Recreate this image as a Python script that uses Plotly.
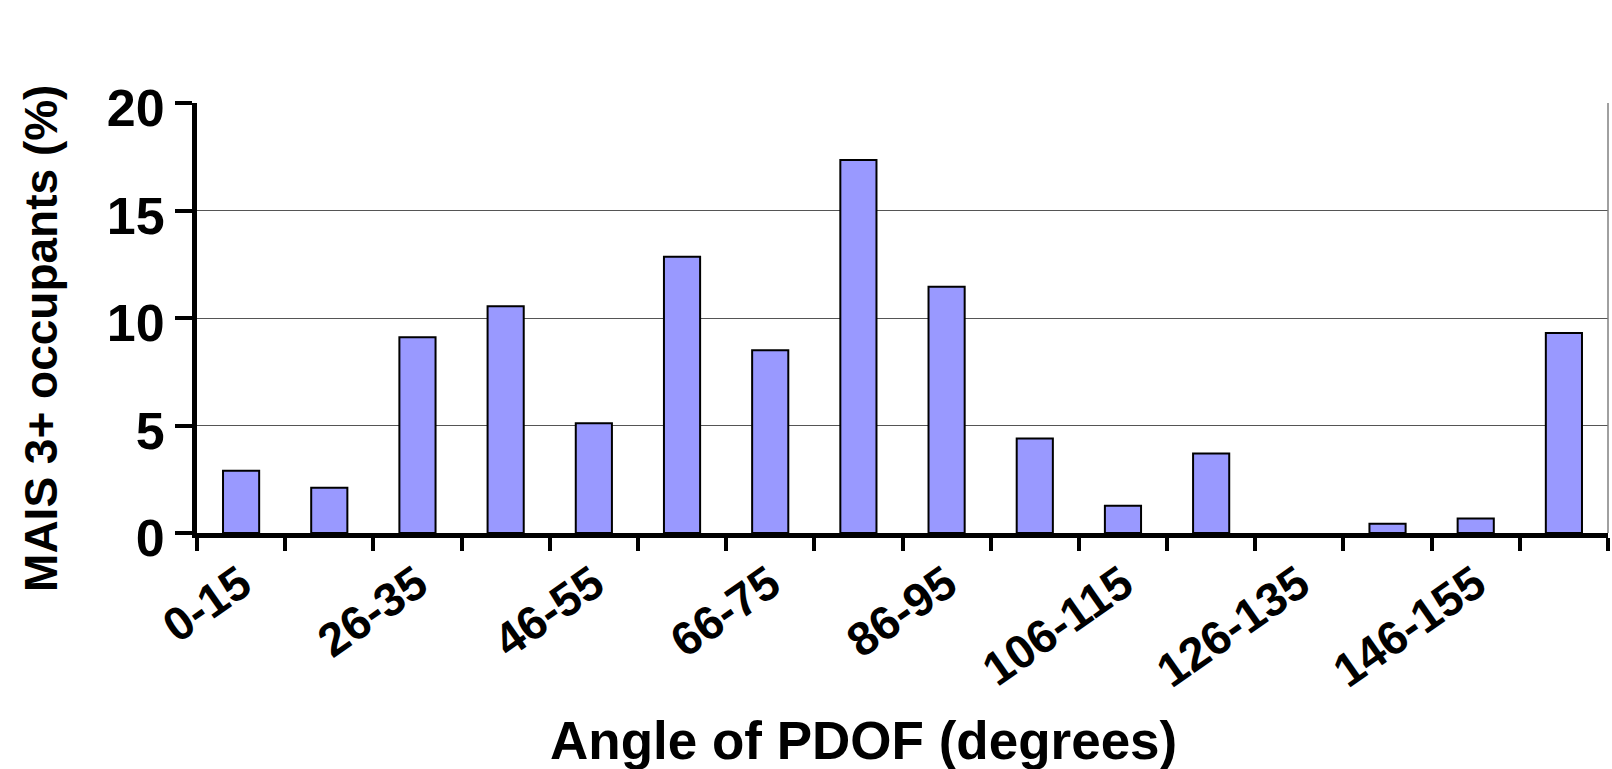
import plotly.graph_objects as go

# PDOF angle bins (degrees) and share of MAIS 3+ occupants (%)
angle_bins = ["0-15", "16-25", "26-35", "36-45", "46-55", "56-65", "66-75", "76-85",
              "86-95", "96-105", "106-115", "116-125", "126-135", "136-145", "146-155", "156-180"]
mais3_pct = [2.9, 2.1, 9.1, 10.55, 5.1, 12.85, 8.5, 17.35,
             11.45, 4.4, 1.27, 3.7, None, 0.43, 0.68, 9.3]
# every other bin gets a printed label
tick_text = [b if i % 2 == 0 else "" for i, b in enumerate(angle_bins)]
y_ticks = [0, 5, 10, 15, 20]

FONT = "Liberation Sans, Arial, sans-serif"

fig = go.Figure(
    go.Bar(
        x=angle_bins,
        y=mais3_pct,
        marker=dict(color="#9999FF", line=dict(color="black", width=2)),
    )
)

fig.update_layout(
    width=1612,
    height=769,
    margin=dict(l=197, r=4, t=103, b=236),
    paper_bgcolor="white",
    plot_bgcolor="white",
    bargap=0.59,
    showlegend=False,
    font=dict(family=FONT, color="black"),
)

fig.update_xaxes(
    type="category",
    range=[-0.5, 15.5],
    tickmode="array",
    tickvals=angle_bins,
    ticktext=tick_text,
    tickangle=-35,
    tickson="boundaries",
    ticks="outside",
    ticklen=13,
    tickwidth=4,
    tickcolor="black",
    showline=True,
    linecolor="black",
    linewidth=5,
    showgrid=False,
    tickfont=dict(family=FONT, size=47, color="black", weight="bold"),
)

fig.update_yaxes(
    range=[0, 20],
    tickmode="array",
    tickvals=y_ticks,
    ticks="outside",
    ticklen=17,
    tickwidth=4,
    tickcolor="black",
    ticklabelstandoff=0,
    ticklabelshift=5,
    showline=True,
    linecolor="black",
    linewidth=5,
    showgrid=True,
    gridcolor="#555555",
    gridwidth=1,
    zeroline=False,
    tickfont=dict(family=FONT, size=52, color="black", weight="bold"),
)

# light frame on the right-hand side of the plot area
fig.add_shape(type="line", xref="paper", yref="paper", x0=1, x1=1, y0=0, y1=1,
              line=dict(color="#808080", width=1.5))

fig.add_annotation(
    text="MAIS 3+ occupants (%)",
    xref="paper", yref="paper",
    x=-0.1106, y=0.4535,
    xanchor="center", yanchor="middle",
    textangle=-90,
    showarrow=False,
    font=dict(family=FONT, size=46, color="black", weight="bold"),
)

fig.add_annotation(
    text="Angle of PDOF (degrees)",
    xref="paper", yref="paper",
    x=0.4723, y=-0.4837,
    xanchor="center", yanchor="middle",
    showarrow=False,
    font=dict(family=FONT, size=53, color="black", weight="bold"),
)

fig.write_html("out.html")
